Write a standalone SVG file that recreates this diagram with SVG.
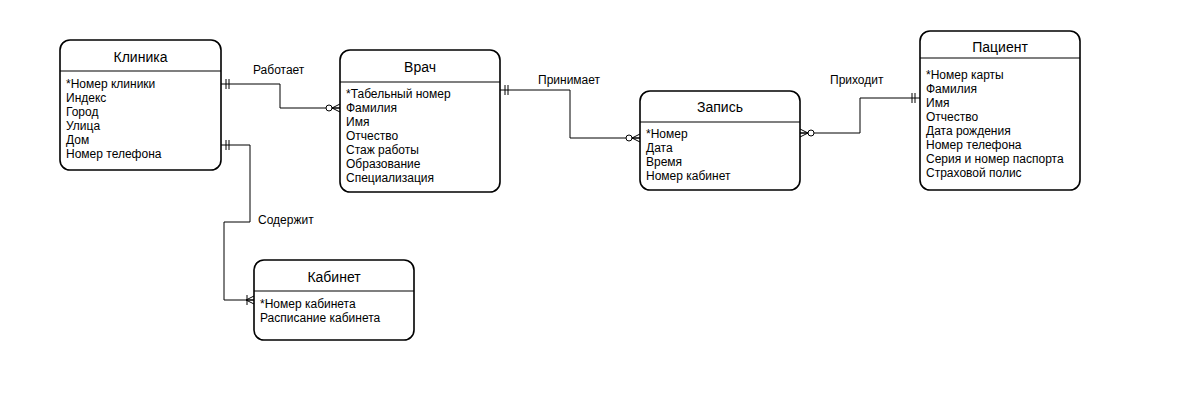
<svg xmlns="http://www.w3.org/2000/svg" width="1200" height="400" viewBox="0 0 1200 400">
<style>
.box{fill:#fff;stroke:#000;stroke-width:1.6}
.div{stroke:#000;stroke-width:1.2}
.title{font-family:"Liberation Sans",Arial,sans-serif;font-size:14px;fill:#000;text-anchor:middle}
.attr{font-family:"Liberation Sans",Arial,sans-serif;font-size:12px;fill:#000}
.lbl{font-family:"Liberation Sans",Arial,sans-serif;font-size:12px;fill:#000}
.conn{fill:none;stroke:#000;stroke-width:1}
.mk{fill:none;stroke:#000;stroke-width:1}
</style>
<defs>
<marker id="one" markerUnits="userSpaceOnUse" markerWidth="12" markerHeight="12" refX="11" refY="6" orient="auto-start-reverse" overflow="visible">
<path class="mk" d="M3,1V11M6,1V11"/>
</marker>
<marker id="zeroMany" markerUnits="userSpaceOnUse" markerWidth="20" markerHeight="12" refX="16" refY="6" orient="auto-start-reverse" overflow="visible">
<path class="mk" d="M8,6L16,2M8,6L16,6M8,6L16,10"/>
<circle cx="5" cy="6" r="3" fill="#fff" stroke="#000" stroke-width="1"/>
</marker>
<marker id="oneMany" markerUnits="userSpaceOnUse" markerWidth="12" markerHeight="12" refX="10" refY="6" orient="auto-start-reverse" overflow="visible">
<path class="mk" d="M2,6L10,2M2,6L10,6M2,6L10,10M3,1V11"/>
</marker>
</defs>
<rect width="1200" height="400" fill="#fff"/>
<g id="connectors">
<path class="conn" d="M221,84H280V108H340" marker-start="url(#one)" marker-end="url(#zeroMany)"/>
<path class="conn" d="M500,90H570V138H640" marker-start="url(#one)" marker-end="url(#zeroMany)"/>
<path class="conn" d="M800,133H860V98H920" marker-start="url(#zeroMany)" marker-end="url(#one)"/>
<path class="conn" d="M221,145H250V222H224V300H254" marker-start="url(#one)" marker-end="url(#oneMany)"/>
<text class="lbl" x="253" y="74">Работает</text>
<text class="lbl" x="538" y="84">Принимает</text>
<text class="lbl" x="830" y="84">Приходит</text>
<text class="lbl" x="258" y="224">Содержит</text>
</g>
<g id="klinika">
<rect class="box" x="60" y="40" width="161" height="130" rx="10"/>
<line class="div" x1="60" y1="71" x2="221" y2="71"/>
<text class="title" x="140.5" y="62">Клиника</text>
<text class="attr" x="66" y="88">*Номер клиники</text>
<text class="attr" x="66" y="102">Индекс</text>
<text class="attr" x="66" y="116">Город</text>
<text class="attr" x="66" y="130">Улица</text>
<text class="attr" x="66" y="144">Дом</text>
<text class="attr" x="66" y="158">Номер телефона</text>
</g>
<g id="vrach">
<rect class="box" x="340" y="50" width="160" height="142" rx="10"/>
<line class="div" x1="340" y1="82" x2="500" y2="82"/>
<text class="title" x="420" y="72">Врач</text>
<text class="attr" x="346" y="98">*Табельный номер</text>
<text class="attr" x="346" y="112">Фамилия</text>
<text class="attr" x="346" y="126">Имя</text>
<text class="attr" x="346" y="140">Отчество</text>
<text class="attr" x="346" y="154">Стаж работы</text>
<text class="attr" x="346" y="168">Образование</text>
<text class="attr" x="346" y="182">Специализация</text>
</g>
<g id="zapis">
<rect class="box" x="640" y="91" width="160" height="99" rx="10"/>
<line class="div" x1="640" y1="122" x2="800" y2="122"/>
<text class="title" x="720" y="112">Запись</text>
<text class="attr" x="646" y="138">*Номер</text>
<text class="attr" x="646" y="152">Дата</text>
<text class="attr" x="646" y="166">Время</text>
<text class="attr" x="646" y="180">Номер кабинет</text>
</g>
<g id="pacient">
<rect class="box" x="920" y="31" width="160" height="159" rx="10"/>
<line class="div" x1="920" y1="58" x2="1080" y2="58"/>
<text class="title" x="1000" y="52">Пациент</text>
<text class="attr" x="926" y="78.5">*Номер карты</text>
<text class="attr" x="926" y="92.5">Фамилия</text>
<text class="attr" x="926" y="106.5">Имя</text>
<text class="attr" x="926" y="120.5">Отчество</text>
<text class="attr" x="926" y="134.5">Дата рождения</text>
<text class="attr" x="926" y="148.5">Номер телефона</text>
<text class="attr" x="926" y="162.5">Серия и номер паспорта</text>
<text class="attr" x="926" y="176.5">Страховой полис</text>
</g>
<g id="kabinet">
<rect class="box" x="254" y="260" width="160" height="80" rx="10"/>
<line class="div" x1="254" y1="291" x2="414" y2="291"/>
<text class="title" x="334" y="282">Кабинет</text>
<text class="attr" x="260" y="307.5">*Номер кабинета</text>
<text class="attr" x="260" y="321.5">Расписание кабинета</text>
</g>
</svg>
